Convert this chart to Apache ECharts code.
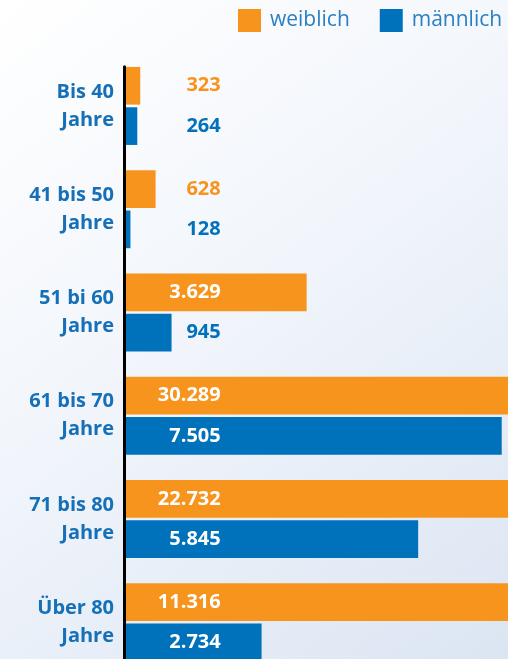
<!DOCTYPE html>
<html>
<head>
<meta charset="utf-8">
<script src="https://cdn.jsdelivr.net/npm/echarts@6/dist/echarts.min.js"></script>
<style>
  html, body { margin: 0; padding: 0; overflow: hidden; }
  /* Ausschnitt: Diagramm läuft unten über den sichtbaren Bereich hinaus */
  #chart { width: 508px; height: 690px; }
</style>
</head>
<body>
<div id="chart"></div>
<script>
// Altersgruppen
var categories = ['Bis 40\nJahre', '41 bis 50\nJahre', '51 bi 60\nJahre', '61 bis 70\nJahre', '71 bis 80\nJahre', 'Über 80\nJahre'];
var weiblich = [323, 628, 3629, 30289, 22732, 11316];
var maennlich = [264, 128, 945, 7505, 5845, 2734];

var ORANGE = '#f7941d';
var BLUE = '#0071bb';
var FONT = '"Open Sans", "Noto Sans", sans-serif';

// Zahl im deutschen Format (Tausenderpunkt)
function fmt(v) {
  return String(v).replace(/\B(?=(\d{3})+(?!\d))/g, '.');
}

// kurze Balken: Beschriftung in Serienfarbe, lange Balken: weiß
function buildData(values, color) {
  return values.map(function (v) {
    return {
      value: v,
      label: { color: v > 2000 ? '#ffffff' : color }
    };
  });
}

var myChart = echarts.init(document.getElementById('chart'));

var options = {
  backgroundColor: new echarts.graphic.LinearGradient(0, 0, 1, 1, [
    { offset: 0, color: '#ffffff' },
    { offset: 0.45, color: '#f1f5fb' },
    { offset: 1, color: '#dae4f2' }
  ]),
  textStyle: { fontFamily: FONT },
  legend: {
    data: ['weiblich', 'männlich'],
    left: 238,
    top: 9,
    padding: 0,
    itemWidth: 23,
    itemHeight: 23,
    itemGap: 30,
    icon: 'rect',
    textStyle: {
      fontFamily: FONT,
      fontSize: 21,
      color: '#2a7fc1',
      padding: [0, 0, 0, 4]
    }
  },
  grid: [
    { left: 124, right: 0, top: 54.3, height: 619.6 },
    { left: 124, right: 0, top: 66.7, bottom: 0 }
  ],
  xAxis: [
    { type: 'value', gridIndex: 0, min: 0, max: 7630, show: false },
    { type: 'value', gridIndex: 1, min: 0, max: 1, show: false }
  ],
  yAxis: [
    {
      type: 'category',
      gridIndex: 0,
      data: categories,
      inverse: true,
      axisLine: { show: false },
      axisTick: { show: false },
      axisLabel: {
        margin: 10,
        fontFamily: FONT,
        fontSize: 20,
        fontWeight: 'bold',
        lineHeight: 28,
        color: '#1570b7',
        align: 'right'
      }
    },
    {
      // schwarze Achsenlinie, beginnt erst am ersten Balken
      type: 'value',
      gridIndex: 1,
      z: 5,
      axisLine: { show: true, lineStyle: { color: '#000000', width: 3 } },
      axisTick: { show: false },
      axisLabel: { show: false },
      splitLine: { show: false }
    }
  ],
  series: [
    {
      name: 'weiblich',
      type: 'bar',
      clip: true,
      barWidth: 37.7,
      barGap: '7%',
      itemStyle: { color: ORANGE },
      label: {
        show: true,
        position: [96.7, '50%'],
        align: 'right',
        verticalAlign: 'middle',
        fontFamily: FONT,
        fontSize: 20,
        fontWeight: 'bold',
        formatter: function (p) { return fmt(p.value); }
      },
      data: buildData(weiblich, ORANGE)
    },
    {
      name: 'männlich',
      type: 'bar',
      clip: true,
      barWidth: 37.7,
      barGap: '7%',
      itemStyle: { color: BLUE },
      label: {
        show: true,
        position: [96.7, '50%'],
        align: 'right',
        verticalAlign: 'middle',
        fontFamily: FONT,
        fontSize: 20,
        fontWeight: 'bold',
        formatter: function (p) { return fmt(p.value); }
      },
      data: buildData(maennlich, BLUE)
    }
  ]
};

myChart.setOption(options, true);
</script>
</body>
</html>
